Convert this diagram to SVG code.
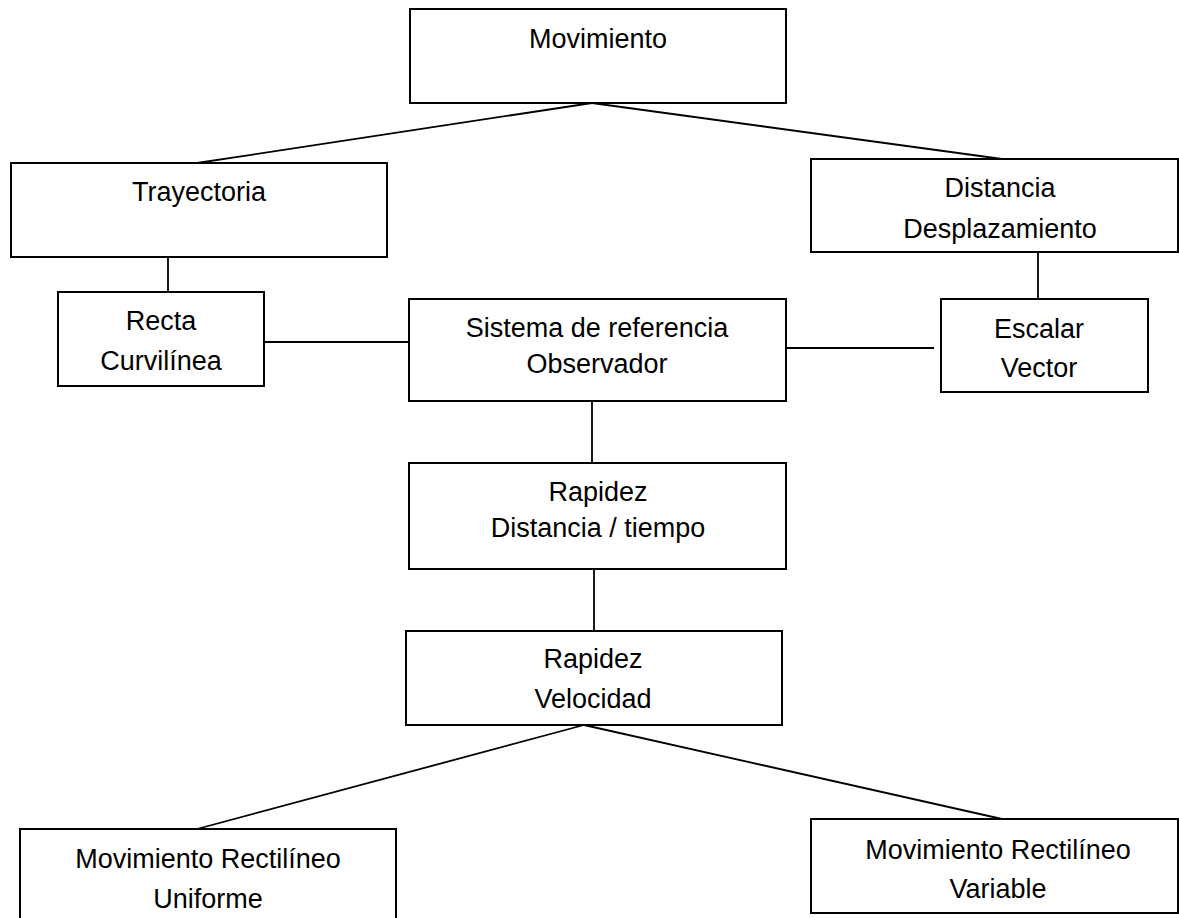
<svg xmlns="http://www.w3.org/2000/svg" width="1179" height="918" viewBox="0 0 1179 918">
<style>
.box{fill:#fff;stroke:#000;stroke-width:2}
.c{stroke:#000;stroke-width:1.8;fill:none}
text{font-family:"Liberation Sans",Arial,sans-serif;font-size:27px;fill:#000;text-anchor:middle}
</style>
<rect width="1179" height="918" fill="#fff"/>
<g id="connectors">
<line class="c" x1="592" y1="103" x2="197" y2="163"/>
<line class="c" x1="592" y1="103" x2="1002" y2="159"/>
<line class="c" x1="168" y1="257" x2="168" y2="292"/>
<line class="c" x1="264" y1="342" x2="409" y2="342"/>
<line class="c" x1="1038" y1="252" x2="1038" y2="299"/>
<line class="c" x1="786" y1="348" x2="934" y2="348"/>
<line class="c" x1="592" y1="401" x2="592" y2="463"/>
<line class="c" x1="594" y1="569" x2="594" y2="631"/>
<line class="c" x1="584" y1="725" x2="197" y2="829"/>
<line class="c" x1="584" y1="725" x2="1002" y2="819"/>
</g>
<g id="movimiento"><rect class="box" x="410" y="9" width="376" height="94"/><text x="598" y="48">Movimiento</text></g>
<g id="trayectoria"><rect class="box" x="11" y="163" width="376" height="94"/><text x="199" y="201">Trayectoria</text></g>
<g id="distancia"><rect class="box" x="811" y="159" width="367" height="93"/><text x="1000" y="197">Distancia</text><text x="1000" y="238">Desplazamiento</text></g>
<g id="recta"><rect class="box" x="58" y="292" width="206" height="94"/><text x="161" y="330">Recta</text><text x="161" y="370">Curvilínea</text></g>
<g id="sistema"><rect class="box" x="409" y="299" width="377" height="102"/><text x="597" y="337">Sistema de referencia</text><text x="597" y="373">Observador</text></g>
<g id="escalar"><rect class="box" x="941" y="299" width="207" height="93"/><text x="1039" y="338">Escalar</text><text x="1039" y="377">Vector</text></g>
<g id="rapidez1"><rect class="box" x="409" y="463" width="377" height="106"/><text x="598" y="501">Rapidez</text><text x="598" y="537">Distancia / tiempo</text></g>
<g id="rapidez2"><rect class="box" x="406" y="631" width="376" height="94"/><text x="593" y="668">Rapidez</text><text x="593" y="708">Velocidad</text></g>
<g id="mru"><rect class="box" x="20" y="829" width="376" height="100"/><text x="208" y="868">Movimiento Rectilíneo</text><text x="208" y="908">Uniforme</text></g>
<g id="mrv"><rect class="box" x="811" y="819" width="367" height="94"/><text x="998" y="859">Movimiento Rectilíneo</text><text x="998" y="898">Variable</text></g>
</svg>
